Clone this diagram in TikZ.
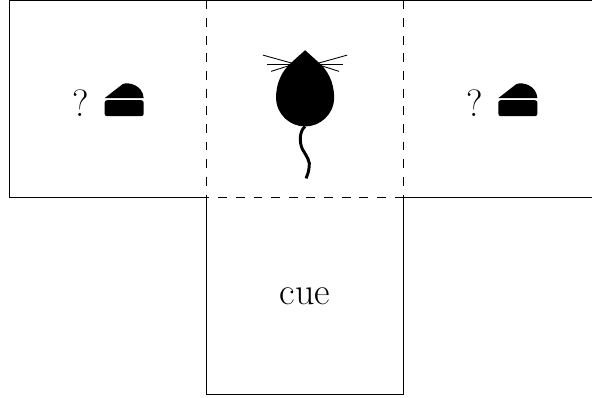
\documentclass[tikz,border=0pt]{standalone}
\usepackage{tikz}
\usetikzlibrary{positioning}
\font\armfont="Latin Modern Roman" at 22pt
\tikzset{
  arm/.style={minimum size=4cm,inner sep=0pt,outer sep=0pt,font=\armfont},
  whisker/.style={line width=0.5pt},
  wall/.style={line width=0.5pt},
  door/.style={line width=0.5pt,dash pattern=on 5.1pt off 5.1pt},
}
\newcommand{\cheese}{%
\begin{tikzpicture}[baseline=0cm,x=0.0204cm,y=0.0204cm]
\fill (0,18) -- (18,32) .. controls (24,34.5) and (38,31) .. (39,18) -- cycle;
\fill[rounded corners=1.5pt] (0,0) rectangle (39,16);
\end{tikzpicture}}
\begin{document}
\begin{tikzpicture}
\useasboundingbox (-4.2,-4.06) rectangle (7.83,4.01);
\node[arm] (center) at (2,2) {};
\node[arm,left=0pt of center] (leftarm) {? \cheese};
\node[arm,right=0pt of center] (rightarm) {? \cheese};
\node[arm,below=0pt of center] (cue) {cue};
% arms
\draw[wall] (center.north west) -- (leftarm.north west) -- (leftarm.south west) -- (center.south west);
\draw[wall] (center.north east) -- (rightarm.north east) -- (rightarm.south east) -- (center.south east);
\draw[wall] (cue.north west) -- (cue.south west) -- (cue.south east) -- (cue.north east);
\draw[door] (center.north west) -- (center.south west);
\draw[door] (center.north east) -- (center.south east);
\draw[door] (center.south east) -- (center.south west);
\draw[wall] (center.north west) -- (center.north east);
% mouse
\coordinate (nose) at (2,2.99);
\coordinate (rump) at (2,1.44);
\fill (nose) -- (2.3,2.72) .. controls (2.45,2.58) and (2.59,2.35) .. (2.59,2.03) .. controls (2.59,1.68) and (2.3,1.44) .. (rump) .. controls (1.7,1.44) and (1.41,1.68) .. (1.41,2.03) .. controls (1.41,2.35) and (1.55,2.58) .. (1.7,2.72) -- cycle;
\draw[line width=1.7pt] (rump) .. controls (1.88,1.35) and (1.88,1.1) .. (1.95,0.97) .. controls (2.02,0.85) and (2.12,0.72) .. (2.08,0.6) .. controls (2.07,0.52) and (2.05,0.45) .. (2.02,0.385);
\foreach \s in {-1,1}{
  \draw[whisker] (2+\s*0.28,2.73) -- (2+\s*0.855,2.89);
  \draw[whisker] (2+\s*0.28,2.71) -- (2+\s*0.77,2.71);
  \draw[whisker] (2+\s*0.28,2.69) -- (2+\s*0.69,2.56);
}
\end{tikzpicture}
\end{document}
